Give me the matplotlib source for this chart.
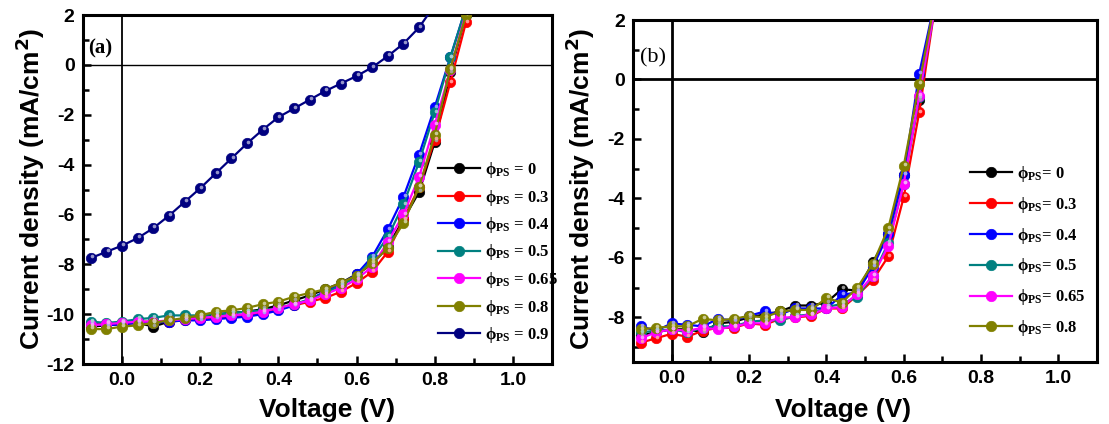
import matplotlib
matplotlib.use("Agg")
import matplotlib.pyplot as plt
from matplotlib.ticker import MultipleLocator
from matplotlib.transforms import offset_copy
import numpy as np

plt.rcParams['mathtext.fontset'] = 'custom'
plt.rcParams['mathtext.rm'] = 'Liberation Serif:bold'
plt.rcParams['mathtext.bf'] = 'Liberation Serif:bold'
plt.rcParams['mathtext.it'] = 'Liberation Serif:bold'
plt.rcParams['axes.unicode_minus'] = False

# ---------------- data: panel (a) ----------------
va = [-0.08, -0.04, 0.00, 0.04, 0.08, 0.12, 0.16, 0.20, 0.24, 0.28, 0.32, 0.36,
      0.40, 0.44, 0.48, 0.52, 0.56, 0.60, 0.64, 0.68, 0.72, 0.76, 0.80, 0.84, 0.88]
ja_0 = [-10.5, -10.45, -10.4, -10.35, -10.5, -10.3, -10.2, -10.1, -10.0, -9.95, -9.9, -9.8,
        -9.65, -9.45, -9.25, -9.0, -8.75, -8.4, -8.0, -7.3, -6.2, -5.1, -3.1, -0.3, 2.0]
ja_03 = [-10.35, -10.4, -10.35, -10.3, -10.3, -10.3, -10.25, -10.2, -10.15, -10.1, -10.05, -9.95,
         -9.8, -9.65, -9.5, -9.35, -9.1, -8.75, -8.3, -7.5, -6.2, -4.9, -3.0, -0.7, 1.7]
ja_04 = [-10.4, -10.45, -10.4, -10.35, -10.35, -10.3, -10.25, -10.25, -10.2, -10.15, -10.1, -10.0,
         -9.85, -9.65, -9.4, -9.1, -8.8, -8.4, -7.7, -6.6, -5.3, -3.6, -1.7, 0.3, 2.3]
ja_05 = [-10.3, -10.35, -10.3, -10.2, -10.15, -10.05, -10.05, -10.05, -10.0, -9.95, -9.9, -9.85,
         -9.75, -9.6, -9.4, -9.15, -8.85, -8.5, -7.8, -6.9, -5.6, -3.9, -1.9, 0.3, 2.3]
ja_065 = [-10.45, -10.4, -10.35, -10.3, -10.3, -10.25, -10.2, -10.15, -10.1, -10.05, -10.0, -9.9,
          -9.75, -9.6, -9.45, -9.2, -8.95, -8.6, -8.1, -7.1, -6.0, -4.5, -2.4, -0.2, 2.1]
ja_08 = [-10.6, -10.6, -10.5, -10.45, -10.35, -10.25, -10.15, -10.05, -9.9, -9.85, -9.75, -9.6,
         -9.5, -9.3, -9.15, -9.0, -8.75, -8.45, -7.95, -7.35, -6.35, -4.9, -2.8, -0.15, 2.0]
va_09 = [-0.08, -0.04, 0.00, 0.04, 0.08, 0.12, 0.16, 0.20, 0.24, 0.28, 0.32, 0.36,
         0.40, 0.44, 0.48, 0.52, 0.56, 0.60, 0.64, 0.68, 0.72, 0.76, 0.80]
ja_09 = [-7.75, -7.5, -7.25, -6.95, -6.55, -6.05, -5.5, -4.95, -4.35, -3.75, -3.15, -2.6,
         -2.1, -1.75, -1.4, -1.05, -0.75, -0.45, -0.1, 0.35, 0.85, 1.5, 2.4]

# ---------------- data: panel (b) ----------------
vb = [-0.08, -0.04, 0.00, 0.04, 0.08, 0.12, 0.16, 0.20, 0.24, 0.28, 0.32, 0.36,
      0.40, 0.44, 0.48, 0.52, 0.56, 0.60, 0.64, 0.68]
jb_0 = [-8.6, -8.5, -8.4, -8.4, -8.5, -8.2, -8.15, -8.0, -7.9, -7.8, -7.6, -7.6,
        -7.5, -7.05, -7.1, -6.15, -5.2, -3.2, -0.7, 2.5]
jb_03 = [-8.85, -8.7, -8.55, -8.65, -8.45, -8.35, -8.35, -8.2, -8.25, -8.05, -8.0, -7.95,
         -7.7, -7.7, -7.25, -6.75, -5.95, -3.95, -1.1, 2.4]
jb_04 = [-8.3, -8.45, -8.2, -8.25, -8.3, -8.05, -8.1, -7.95, -7.8, -7.9, -7.7, -7.7,
         -7.7, -7.25, -7.15, -6.3, -5.2, -3.2, 0.2, 2.6]
jb_05 = [-8.5, -8.45, -8.4, -8.5, -8.35, -8.3, -8.3, -8.15, -8.1, -8.1, -7.95, -7.9,
         -7.65, -7.55, -7.3, -6.6, -5.5, -3.5, -0.6, 2.4]
jb_065 = [-8.7, -8.5, -8.4, -8.45, -8.35, -8.4, -8.3, -8.2, -8.2, -8.0, -8.0, -7.9,
          -7.7, -7.65, -7.2, -6.6, -5.6, -3.5, -0.55, 2.4]
jb_08 = [-8.4, -8.35, -8.3, -8.3, -8.05, -8.1, -8.05, -7.95, -8.0, -7.8, -7.75, -7.75,
         -7.35, -7.5, -7.0, -6.2, -5.0, -2.9, -0.15, 2.6]

labels_a = ["0", "0.3", "0.4", "0.5", "0.65", "0.8", "0.9"]
labels_b = ["0", "0.3", "0.4", "0.5", "0.65", "0.8"]
colors = ["#000000", "#ff0000", "#0000ff", "#008080", "#ff00ff", "#808000", "#000080"]

series_a = [(va, ja_0), (va, ja_03), (va, ja_04), (va, ja_05), (va, ja_065), (va, ja_08), (va_09, ja_09)]
series_b = [(vb, jb_0), (vb, jb_03), (vb, jb_04), (vb, jb_05), (vb, jb_065), (vb, jb_08)]

fig = plt.figure(figsize=(11.09, 4.24), dpi=100)
ax1 = fig.add_axes([0.0748, 0.1415, 0.4229, 0.8231])
ax2 = fig.add_axes([0.5708, 0.1462, 0.4185, 0.8066])


def lighten(c, f=0.6):
    rgb = np.array(matplotlib.colors.to_rgb(c))
    return tuple(rgb + (1 - rgb) * f)


def draw(ax, series, labels, ms, sep):
    handles = []
    for (x, y), lab, c in zip(series, labels, colors):
        h, = ax.plot(x, y, '-', color=c, lw=1.6, marker='o', ms=ms,
                     mfc=c, mec=c, mew=0.5,
                     label=r"$\mathrm{ϕ}_{\mathrm{PS}}$" + sep + lab, zorder=3)
        tr = offset_copy(ax.transData, fig=fig, x=0.8, y=1.2, units='points')
        ax.plot(x, y, 'o', ms=ms * 0.35, color=lighten(c, 0.65), mec='none',
                transform=tr, zorder=4, alpha=0.9)
        handles.append(h)
    return handles


for ax in (ax1, ax2):
    for s in ax.spines.values():
        s.set_linewidth(2.2)
    ax.tick_params(axis='both', which='both', direction='in', top=False, right=False,
                   width=1.8, labelsize=14)
    ax.tick_params(which='major', length=6, pad=6)
    ax.tick_params(which='minor', length=4)
    ax.xaxis.set_major_locator(MultipleLocator(0.2))
    ax.xaxis.set_minor_locator(MultipleLocator(0.1))
    ax.yaxis.set_major_locator(MultipleLocator(2))
    ax.yaxis.set_minor_locator(MultipleLocator(1))
    ax.set_xlim(-0.1, 1.1)

ax1.set_ylim(-12, 2)
ax2.set_ylim(-9.5, 2)
ax1.axhline(0, color='black', lw=1.0, zorder=2)
ax1.axvline(0, color='black', lw=1.3, zorder=2)
ax2.axhline(0, color='black', lw=2.0, zorder=2)
ax2.axvline(0, color='black', lw=2.0, zorder=2)

h1 = draw(ax1, series_a, labels_a, 7.5, " = ")
h2 = draw(ax2, series_b, labels_b, 7.5, "= ")

for ax in (ax1, ax2):
    ax.set_xticks([0.0, 0.2, 0.4, 0.6, 0.8, 1.0])
    ax.set_xticklabels(["0.0", "0.2", "0.4", "0.6", "0.8", "1.0"], fontweight='bold',
                       fontfamily='Liberation Sans', fontsize=14)
    for lab in ax.get_yticklabels():
        lab.set_fontweight('bold')
        lab.set_fontfamily('Liberation Sans')

ylab = "Current density (mA/cm$^{\\mathbf{2}}$)"
for xl in (0.027, 0.523):
    fig.text(xl, 0.555, ylab, rotation=90, ha='center', va='center',
             fontsize=19, fontweight='bold', family='Liberation Sans',
             math_fontfamily='dejavusans')
fig.text(0.295, 0.033, "Voltage (V)", ha='center', va='center', fontsize=19,
         fontweight='bold', family='Liberation Sans')
fig.text(0.760, 0.033, "Voltage (V)", ha='center', va='center', fontsize=19,
         fontweight='bold', family='Liberation Sans')

ax1.text(0.012, 0.905, "(a)", transform=ax1.transAxes, fontsize=15, fontweight='bold',
         family='Liberation Serif', ha='left', va='center')
ax2.text(0.014, 0.888, "(b)", transform=ax2.transAxes, fontsize=16,
         family='Liberation Serif', ha='left', va='center')

leg_kw = dict(frameon=False, handlelength=2.5, handletextpad=0.3, borderpad=0,
              borderaxespad=0, prop={'family': 'Liberation Serif', 'weight': 'bold', 'size': 12})
fig.legend(handles=h1, loc='upper left', bbox_to_anchor=(438 / 1109, 1 - 160 / 424),
           labelspacing=0.45, **leg_kw)
fig.legend(handles=h2, loc='upper left', bbox_to_anchor=(970 / 1109, 1 - 164 / 424),
           labelspacing=0.65, **leg_kw)

fig.savefig("out.png", dpi=100)
